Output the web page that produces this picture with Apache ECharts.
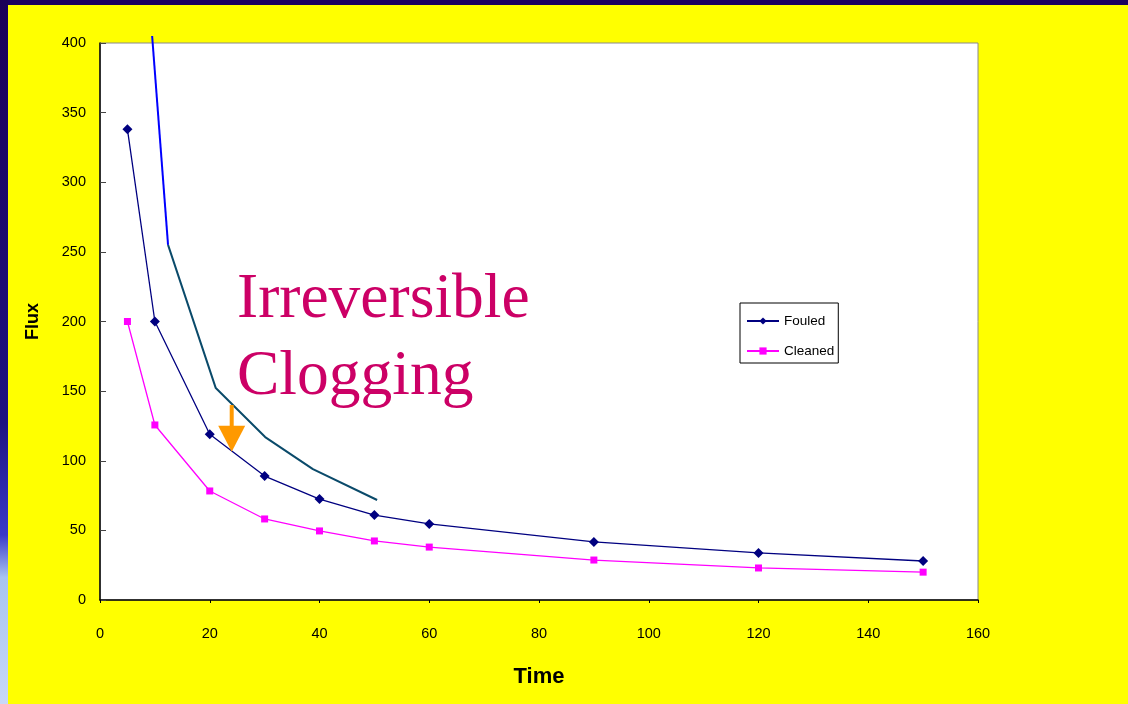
<!DOCTYPE html>
<html>
<head>
<meta charset="utf-8">
<script src="https://cdn.jsdelivr.net/npm/echarts@6/dist/echarts.min.js"></script>
<style>
  html, body { margin: 0; padding: 0; background: #ffff00; }
  #chart { width: 1128px; height: 704px; }
</style>
</head>
<body>
<div id="chart"></div>
<script>
// Flux measurements over time
const timePoints  = [5, 10, 20, 30, 40, 50, 60, 90, 120, 150];
const fouledFlux  = [338, 200, 119, 89, 72.5, 61, 54.6, 41.7, 33.8, 28];
const cleanedFlux = [200, 125.7, 78.3, 58.2, 49.6, 42.4, 38, 28.7, 23, 20];

// Sketched trend marking the irreversible clogging gap
const clogSteepTime = [9.5, 12.4];
const clogSteepFlux = [405, 255];
const clogTailTime  = [12.4, 21.1, 30.1, 38.8, 50.5];
const clogTailFlux  = [255, 152.2, 117, 94, 71.8];

// Arrow pointing at the fouled curve
const arrowTime = 24;
const arrowFromFlux = 140;
const arrowToFlux = 106.5;

// Axis ticks
const xTicks = [0, 20, 40, 60, 80, 100, 120, 140, 160];
const yTicks = [0, 50, 100, 150, 200, 250, 300, 350, 400];

const zip = (xs, ys) => xs.map((x, i) => [x, ys[i]]);
const sans = '"Liberation Sans", Arial, sans-serif';
const serif = '"Liberation Serif", "Times New Roman", serif';

const chart = echarts.init(document.getElementById('chart'));

const option = {
  backgroundColor: '#ffff00',
  animation: false,
  grid: {
    left: 100, top: 43, right: 150, bottom: 104,
    show: true, backgroundColor: '#ffffff',
    borderColor: '#8a8a8a', borderWidth: 1
  },
  legend: {
    orient: 'vertical',
    left: 740, top: 303,
    backgroundColor: '#ffffff',
    borderColor: '#000000', borderWidth: 1,
    padding: [11, 4, 5, 6],
    itemGap: 16,
    itemWidth: 32, itemHeight: 9,
    textStyle: { fontFamily: sans, fontSize: 13.5, color: '#000' },
    data: ['Fouled', 'Cleaned']
  },
  xAxis: {
    type: 'value',
    min: xTicks[0], max: xTicks[xTicks.length - 1], interval: xTicks[1] - xTicks[0],
    name: 'Time', nameLocation: 'middle', nameGap: 66,
    nameTextStyle: { fontFamily: sans, fontWeight: 'bold', fontSize: 22, color: '#000' },
    axisLine: { show: true, lineStyle: { color: '#000', width: 1.5 } },
    axisTick: { show: true, inside: false, length: 3, lineStyle: { color: '#000' } },
    axisLabel: { fontFamily: sans, fontSize: 14.5, color: '#000', margin: 26 },
    splitLine: { show: false }
  },
  yAxis: {
    type: 'value',
    min: yTicks[0], max: yTicks[yTicks.length - 1], interval: yTicks[1] - yTicks[0],
    name: 'Flux', nameLocation: 'middle', nameGap: 58, nameRotate: 90,
    nameTextStyle: { fontFamily: sans, fontWeight: 'bold', fontSize: 18, color: '#000' },
    axisLine: { show: true, lineStyle: { color: '#000', width: 1.5 } },
    axisTick: { show: true, inside: true, length: 6, lineStyle: { color: '#444' } },
    axisLabel: { fontFamily: sans, fontSize: 14.5, color: '#000', margin: 14 },
    splitLine: { show: false }
  },
  series: [
    {
      name: 'Fouled', type: 'line',
      data: zip(timePoints, fouledFlux),
      symbol: 'diamond', symbolSize: 10,
      itemStyle: { color: '#000080' },
      lineStyle: { color: '#000080', width: 1.3 },
      z: 3
    },
    {
      name: 'Cleaned', type: 'line',
      data: zip(timePoints, cleanedFlux),
      symbol: 'rect', symbolSize: 7,
      itemStyle: { color: '#ff00ff' },
      lineStyle: { color: '#ff00ff', width: 1.3 },
      z: 3
    },
    {
      name: 'clogSteep', type: 'line',
      data: zip(clogSteepTime, clogSteepFlux),
      showSymbol: false, clip: false, silent: true,
      lineStyle: { color: '#0000ff', width: 2 },
      z: 2
    },
    {
      name: 'clogTail', type: 'line',
      data: zip(clogTailTime, clogTailFlux),
      showSymbol: false, clip: false, silent: true,
      lineStyle: { color: '#0a4a6a', width: 2 },
      z: 2
    }
  ]
};

chart.setOption(option);

// Place annotation pieces once the scales are known
const arrowStart = chart.convertToPixel({ gridIndex: 0 }, [arrowTime, arrowFromFlux]);
const arrowTip = chart.convertToPixel({ gridIndex: 0 }, [arrowTime, arrowToFlux]);
const headLen = 26, headHalf = 13.5;

chart.setOption({
  graphic: [
    // dark frame strips
    { type: 'rect', left: 0, top: 0, z: 100, shape: { width: 1128, height: 5 }, style: { fill: '#1b0060' } },
    {
      type: 'rect', left: 0, top: 0, z: 100, shape: { width: 8, height: 704 },
      style: {
        fill: new echarts.graphic.LinearGradient(0, 0, 0, 1, [
          { offset: 0, color: '#1b0058' },
          { offset: 0.6, color: '#1e1280' },
          { offset: 0.76, color: '#3a3ac8' },
          { offset: 0.82, color: '#a8c4f0' },
          { offset: 1, color: '#c8d8f8' }
        ])
      }
    },
    // caption
    {
      type: 'text', z: 50, x: 237, y: 268,
      style: { text: 'Irreversible', font: '63.5px ' + serif, fill: '#cc0066', verticalAlign: 'top' }
    },
    {
      type: 'text', z: 50, x: 237, y: 345,
      style: { text: 'Clogging', font: '63.5px ' + serif, fill: '#cc0066', verticalAlign: 'top' }
    },
    // arrow shaft and head
    {
      type: 'line', z: 60,
      shape: { x1: arrowStart[0], y1: arrowStart[1], x2: arrowTip[0], y2: arrowTip[1] - headLen + 1 },
      style: { stroke: '#ff9900', lineWidth: 4 }
    },
    {
      type: 'polygon', z: 60,
      shape: { points: [[arrowTip[0] - headHalf, arrowTip[1] - headLen], [arrowTip[0] + headHalf, arrowTip[1] - headLen], [arrowTip[0], arrowTip[1]]] },
      style: { fill: '#ff9900' }
    }
  ]
});
</script>
</body>
</html>
